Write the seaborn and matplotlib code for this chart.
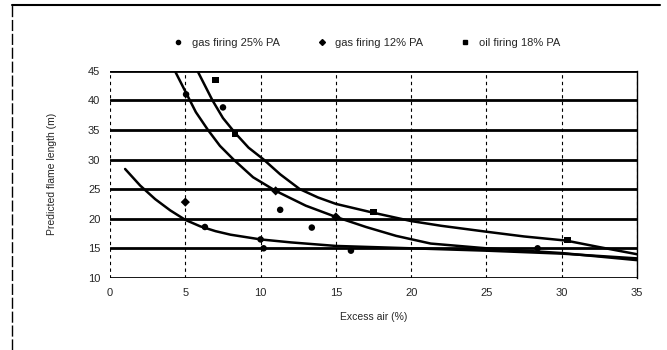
import matplotlib
matplotlib.use("Agg")
import matplotlib.pyplot as plt
from matplotlib.lines import Line2D
import pandas as pd
import seaborn as sns

# fitted curves
gas25_x = [1, 2, 3, 4, 5, 6, 7, 8, 10, 12, 15, 17.5, 20, 25, 30, 35]
gas25_y = [28.4, 25.6, 23.3, 21.4, 19.8, 18.7, 17.9, 17.3, 16.5, 16.0, 15.4, 15.2, 15.0, 14.6, 14.1, 13.3]

gas12_x = [4.3, 4.7, 5.1, 5.7, 6.5, 7.3, 8.2, 9.5, 11, 13, 15, 17, 19, 21.3, 25, 30, 35]
gas12_y = [45, 43, 41, 38, 35, 32.3, 30, 27, 24.7, 22.2, 20.3, 18.6, 17.1, 15.8, 15.0, 14.2, 13.0]

oil18_x = [5.8, 6.2, 6.8, 7.5, 8.3, 9.2, 10.2, 11.3, 12.6, 13.8, 15, 17.5, 20, 22, 25, 27.5, 30.3, 32.5, 35]
oil18_y = [45, 43, 40, 37, 34.5, 32, 30, 27.5, 25, 23.6, 22.5, 21, 19.6, 18.8, 17.8, 17.0, 16.3, 15.2, 14.0]

# measured points
gas25_px = [6.3, 10, 10.2, 16, 13.4, 11.3, 7.5, 5.05, 28.4]
gas25_py = [18.6, 16.5, 15.0, 14.6, 18.5, 21.5, 38.8, 41.0, 15.0]

gas12_px = [5, 11, 15]
gas12_py = [22.8, 24.7, 20.3]

oil18_px = [7, 8.3, 17.5, 30.4]
oil18_py = [43.4, 34.4, 21.1, 16.4]

labels = ["gas firing 25% PA", "gas firing 12% PA", "oil firing 18% PA"]
markers = ["o", "D", "s"]

curves = pd.concat([
    pd.DataFrame({"x": gas25_x, "y": gas25_y, "s": labels[0]}),
    pd.DataFrame({"x": gas12_x, "y": gas12_y, "s": labels[1]}),
    pd.DataFrame({"x": oil18_x, "y": oil18_y, "s": labels[2]}),
])
points = pd.concat([
    pd.DataFrame({"x": gas25_px, "y": gas25_py, "s": labels[0]}),
    pd.DataFrame({"x": gas12_px, "y": gas12_py, "s": labels[1]}),
    pd.DataFrame({"x": oil18_px, "y": oil18_py, "s": labels[2]}),
])

sns.set_style("white")
plt.rcParams["font.family"] = ["Liberation Sans", "DejaVu Sans"]

fig = plt.figure(figsize=(6.67, 3.5), dpi=100)
ax = fig.add_axes([0.165, 0.206, 0.79, 0.592])

pal = {l: "black" for l in labels}
sns.lineplot(data=curves, x="x", y="y", hue="s", palette=pal, sort=False,
             estimator=None, linewidth=1.8, legend=False, ax=ax)
sns.scatterplot(data=points, x="x", y="y", hue="s", style="s", palette=pal,
                markers=dict(zip(labels, markers)), s=22, linewidth=0,
                legend=False, ax=ax, zorder=5)

ax.set_xlim(0, 35)
ax.set_ylim(10, 45)
ax.set_xticks(range(0, 36, 5))
ax.set_yticks(range(10, 46, 5))
ax.tick_params(labelsize=8, length=3, color="black", pad=4)

# horizontal bold grid, vertical dashed grid
for yv in range(10, 46, 5):
    ax.axhline(yv, color="black", linewidth=2.0, zorder=1)
for xv in range(0, 36, 5):
    ax.axvline(xv, color="black", linewidth=0.8, linestyle=(0, (3, 3)), zorder=1)

for side in ["top", "bottom", "left"]:
    ax.spines[side].set_visible(False)
ax.spines["right"].set_color("black")
ax.spines["right"].set_linewidth(1.0)

ax.set_xlabel("Excess air (%)", fontsize=7.5, labelpad=10)
ax.set_ylabel("Predicted flame length (m)", fontsize=7.5, labelpad=22)

handles = [Line2D([], [], marker=m, color="black", linestyle="none", markersize=3)
           for m in markers]
fig.legend(handles, labels, loc="center", bbox_to_anchor=(0.545, 0.877), ncol=3,
           frameon=False, fontsize=8, handletextpad=0.2, columnspacing=2.8)

# page frame from the scan
fig.add_artist(Line2D([0.018, 0.99], [0.985, 0.985], color="black", linewidth=1.5,
                      transform=fig.transFigure))
fig.add_artist(Line2D([0.018, 0.018], [0.0, 0.985], color="black", linewidth=1.0,
                      linestyle=(0, (8, 2)), transform=fig.transFigure))

fig.savefig("out.png", dpi=100)
